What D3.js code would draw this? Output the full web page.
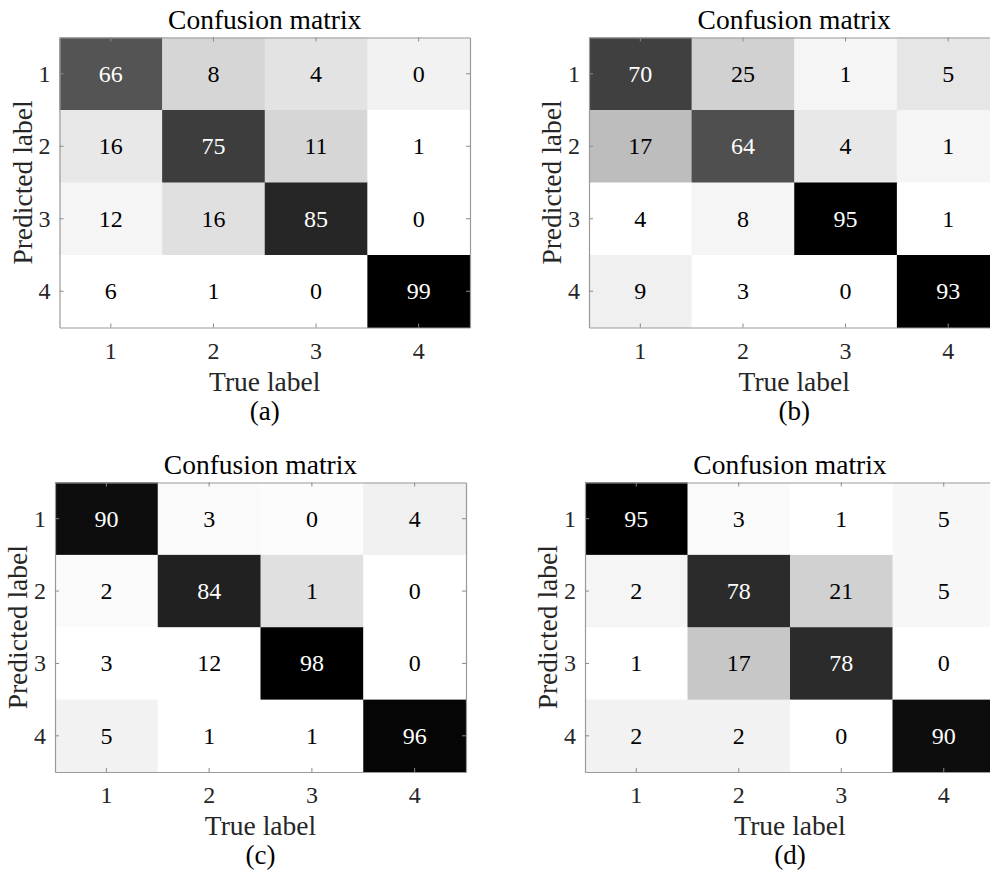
<!DOCTYPE html>
<html>
<head>
<meta charset="utf-8">
<script src="https://cdn.jsdelivr.net/npm/d3@7/dist/d3.min.js"></script>
<style>
  html, body { margin: 0; padding: 0; background: #fff; }
  svg { display: block; }
</style>
</head>
<body>
<svg id="chart" width="990" height="874"></svg>
<script>
// ---------------- data ----------------
const categories = ["1", "2", "3", "4"];
const panelLabels = ["(a)", "(b)", "(c)", "(d)"];
const titleText = "Confusion matrix";
const xLabelText = "True label";
const yLabelText = "Predicted label";

// displayed cell values (rows = predicted label, columns = true label)
const valuesA = [[66, 8, 4, 0], [16, 75, 11, 1], [12, 16, 85, 0], [6, 1, 0, 99]];
const valuesB = [[70, 25, 1, 5], [17, 64, 4, 1], [4, 8, 95, 1], [9, 3, 0, 93]];
const valuesC = [[90, 3, 0, 4], [2, 84, 1, 0], [3, 12, 98, 0], [5, 1, 1, 96]];
const valuesD = [[95, 3, 1, 5], [2, 78, 21, 5], [1, 17, 78, 0], [2, 2, 0, 90]];

// colour-mapped intensity of each cell (0 = white, 100 = black)
const shadeA = [[67, 16, 11, 5], [9, 76, 16, 0], [4, 12, 85, 0], [0, 0, 0, 100]];
const shadeB = [[75, 18, 4, 10], [26, 69, 9, 4], [0, 4, 100, 0], [6, 0, 0, 100]];
const shadeC = [[95, 2, 1, 6], [2, 87, 12, 0], [0, 0, 100, 0], [5, 0, 0, 98]];
const shadeD = [[100, 2, 0, 3], [4, 83, 18, 3], [0, 22, 83, 0], [5, 5, 0, 95]];

// ---------------- layout ----------------
const panels = [
  { values: valuesA, shade: shadeA, label: panelLabels[0], x0: 59.5, y0: 37.5, w: 410.5, h: 290 },
  { values: valuesB, shade: shadeB, label: panelLabels[1], x0: 589,  y0: 37.5, w: 410.5, h: 290 },
  { values: valuesC, shade: shadeC, label: panelLabels[2], x0: 55,   y0: 482.5, w: 411, h: 289.5 },
  { values: valuesD, shade: shadeD, label: panelLabels[3], x0: 585,  y0: 482.5, w: 410, h: 289.5 }
];

const svg = d3.select("#chart");
const gray = d3.scaleLinear().domain([0, 100]).range(["#ffffff", "#000000"]).clamp(true);
const axisColor = "#9a9a9a";
const textColor = "#262626";

function addText(parent, size) {
  return parent.append("text")
    .style("font-family", '"Times New Roman", monospace')
    .attr("font-size", size);
}

panels.forEach(p => {
  const g = svg.append("g");
  const x = d3.scaleBand().domain(categories).range([p.x0, p.x0 + p.w]);
  const y = d3.scaleBand().domain(categories).range([p.y0, p.y0 + p.h]);

  const cells = [];
  p.values.forEach((row, r) => row.forEach((v, c) => {
    cells.push({ row: categories[r], col: categories[c], v: v, s: p.shade[r][c] });
  }));

  g.selectAll("rect.cell").data(cells).enter().append("rect")
    .attr("class", "cell")
    .attr("x", d => x(d.col))
    .attr("y", d => y(d.row))
    .attr("width", x.bandwidth() + 0.5)
    .attr("height", y.bandwidth() + 0.5)
    .attr("fill", d => gray(d.s));

  cells.forEach(d => {
    addText(g, 24)
      .attr("x", x(d.col) + x.bandwidth() / 2)
      .attr("y", y(d.row) + y.bandwidth() / 2 + 8)
      .attr("text-anchor", "middle")
      .attr("fill", d.s > 50 ? "#ffffff" : "#000000")
      .text(d.v);
  });

  // box with inward ticks, drawn from the scales (no axis text)
  const bottom = g.append("g").attr("transform", `translate(0,${p.y0 + p.h})`)
    .call(d3.axisBottom(x).tickSizeInner(-4).tickSizeOuter(0).tickFormat(""));
  const left = g.append("g").attr("transform", `translate(${p.x0},0)`)
    .call(d3.axisLeft(y).tickSizeInner(-4).tickSizeOuter(0).tickFormat(""));
  const top = g.append("g").attr("transform", `translate(0,${p.y0})`)
    .call(d3.axisTop(x).tickSizeInner(-4).tickSizeOuter(0).tickFormat(""));
  const right = g.append("g").attr("transform", `translate(${p.x0 + p.w},0)`)
    .call(d3.axisRight(y).tickSizeInner(-4).tickSizeOuter(0).tickFormat(""));

  [bottom, left, top, right].forEach(a => {
    a.selectAll("text").remove();
    a.select(".domain").attr("stroke", axisColor).attr("stroke-width", 1.2);
    a.selectAll(".tick line").attr("stroke", "#8a8a8a");
  });

  // tick labels
  categories.forEach(c => {
    addText(g, 24)
      .attr("x", x(c) + x.bandwidth() / 2)
      .attr("y", p.y0 + p.h + 31)
      .attr("text-anchor", "middle")
      .attr("fill", textColor)
      .text(c);
    addText(g, 24)
      .attr("x", p.x0 - 9)
      .attr("y", y(c) + y.bandwidth() / 2 + 8)
      .attr("text-anchor", "end")
      .attr("fill", textColor)
      .text(c);
  });

  const cx = p.x0 + p.w / 2;
  const cy = p.y0 + p.h / 2;

  addText(g, 27.5)
    .attr("x", cx).attr("y", p.y0 - 9)
    .attr("text-anchor", "middle")
    .attr("fill", "#000")
    .text(titleText);

  addText(g, 27.5)
    .attr("x", cx).attr("y", p.y0 + p.h + 63)
    .attr("text-anchor", "middle")
    .attr("fill", textColor)
    .text(xLabelText);

  addText(g, 27.5)
    .attr("transform", `translate(${p.x0 - 28},${cy}) rotate(-90)`)
    .attr("text-anchor", "middle")
    .attr("fill", textColor)
    .text(yLabelText);

  addText(g, 27)
    .attr("x", cx).attr("y", p.y0 + p.h + 92)
    .attr("text-anchor", "middle")
    .attr("fill", "#000")
    .text(p.label);
});
</script>
</body>
</html>
